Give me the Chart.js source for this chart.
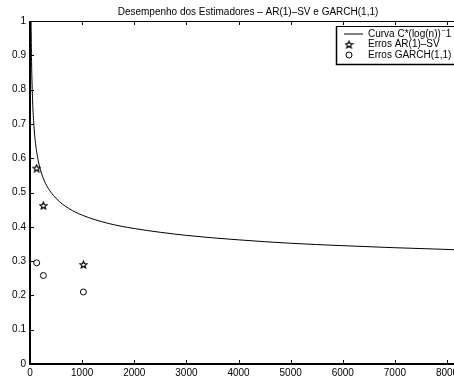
<!DOCTYPE html>
<html>
<head>
<meta charset="utf-8">
<script src="https://cdn.jsdelivr.net/npm/chart.js"></script>
<style>
  html, body { margin: 0; padding: 0; background: #fff; }
  #wrap { width: 454px; height: 381px; }
</style>
</head>
<body>
<div id="wrap"><canvas id="chart"></canvas></div>
<script>
// Curva C*(log(n))^-1, valores
var curveN = [20, 30, 50, 75, 100, 150, 200, 300, 500, 750, 1000, 1500, 2000, 3000, 4000, 5000, 6000, 7000, 8000, 8134];
var curveY = [1.0, 0.882, 0.767, 0.695, 0.651, 0.599, 0.566, 0.526, 0.483, 0.453, 0.434, 0.410, 0.395, 0.375, 0.362, 0.352, 0.345, 0.339, 0.334, 0.333];

// Erros dos estimadores
var sampleSizes = [128, 256, 1024];
var errosAR = [0.571, 0.462, 0.29];
var errosGARCH = [0.295, 0.258, 0.21];

var xTicks = [0, 1000, 2000, 3000, 4000, 5000, 6000, 7000, 8000];
var titleText = 'Desempenho dos Estimadores \u2013 AR(1)\u2013SV e GARCH(1,1)';
var labels = ['Curva C*(log(n))^-1', 'Erros AR(1)\u2013SV', 'Erros GARCH(1,1)'];

var FONT = '"Liberation Sans", Arial, Helvetica, sans-serif';

function toXY(xs, ys) {
    return xs.map(function(x, i) { return { x: x, y: ys[i] }; });
}

// estrela de 5 pontas como no MATLAB
function makeStar(size) {
    var c = document.createElement('canvas');
    c.width = size; c.height = size;
    var g = c.getContext('2d');
    var cx = size / 2, cy = size / 2 + 0.4, R = size / 2 - 0.8, r = R * 0.45;
    g.beginPath();
    for (var i = 0; i < 10; i++) {
        var rad = (i % 2 === 0) ? R : r;
        var a = -Math.PI / 2 + i * Math.PI / 5;
        var px = cx + rad * Math.cos(a), py = cy + rad * Math.sin(a);
        if (i === 0) g.moveTo(px, py); else g.lineTo(px, py);
    }
    g.closePath();
    g.fillStyle = '#fff';
    g.fill();
    g.lineWidth = 1.2;
    g.strokeStyle = '#000';
    g.stroke();
    return c;
}
var starImg = makeStar(9);

// moldura, ticks para dentro, título e legenda
var matlabPlugin = {
    id: 'matlab',
    afterDraw: function(chart) {
        var ctx = chart.ctx, a = chart.chartArea;
        var xs = chart.scales.x, ys = chart.scales.y;
        ctx.save();
        ctx.strokeStyle = '#000';
        // ticks
        ctx.lineWidth = 1;
        ctx.beginPath();
        xs.ticks.forEach(function(t) {
            var px = Math.round(xs.getPixelForValue(t.value)) + 0.5;
            ctx.moveTo(px, a.bottom); ctx.lineTo(px, a.bottom - 4);
            ctx.moveTo(px, a.top); ctx.lineTo(px, a.top + 4);
        });
        ys.ticks.forEach(function(t) {
            var py = Math.round(ys.getPixelForValue(t.value)) + 0.5;
            ctx.moveTo(a.left, py); ctx.lineTo(a.left + 4, py);
        });
        ctx.stroke();
        // moldura
        ctx.beginPath();
        ctx.moveTo(a.left, a.top + 0.5); ctx.lineTo(a.right, a.top + 0.5);
        ctx.stroke();
        ctx.lineWidth = 2;
        ctx.beginPath();
        ctx.moveTo(a.left, a.top); ctx.lineTo(a.left, a.bottom);
        ctx.lineTo(a.right, a.bottom);
        ctx.stroke();

        // título
        ctx.fillStyle = '#000';
        ctx.font = '10px ' + FONT;
        ctx.textAlign = 'center';
        ctx.textBaseline = 'middle';
        ctx.fillText(titleText, 248, 12);

        // legenda
        var bx = 336.5, by = 26.5, bw = 130, bh = 38;
        ctx.fillStyle = '#fff';
        ctx.fillRect(bx, by, bw, bh);
        ctx.lineWidth = 1;
        ctx.strokeRect(bx, by, bw, bh);
        ctx.lineWidth = 1.5;
        ctx.beginPath();
        ctx.moveTo(bx, by); ctx.lineTo(bx, by + bh); ctx.lineTo(bx + bw, by + bh);
        ctx.stroke();

        var rows = [34, 44.5, 55];
        ctx.lineWidth = 1;
        ctx.beginPath();
        ctx.moveTo(344, rows[0]); ctx.lineTo(363, rows[0]);
        ctx.stroke();
        ctx.drawImage(starImg, 349 - 4.5, rows[1] - 4.5);
        ctx.beginPath();
        ctx.arc(349, rows[2], 3, 0, Math.PI * 2);
        ctx.fillStyle = '#fff';
        ctx.fill();
        ctx.stroke();

        ctx.fillStyle = '#000';
        ctx.textAlign = 'left';
        ctx.font = '10px ' + FONT;
        var main = labels[0].split('^')[0];
        ctx.fillText(main, 368, rows[0]);
        var w = ctx.measureText(main).width;
        ctx.font = '7px ' + FONT;
        ctx.fillText('\u2212', w + 368.5, rows[0] - 3);
        ctx.font = '10px ' + FONT;
        ctx.fillText('1', w + 373, rows[0]);
        ctx.fillText(labels[1], 368, rows[1]);
        ctx.fillText(labels[2], 368, rows[2]);
        ctx.restore();
    }
};

var ctx = document.getElementById('chart').getContext('2d');
var chart = new Chart(ctx, {
    type: 'scatter',
    data: {
        datasets: [{
            label: labels[0],
            data: toXY(curveN, curveY),
            showLine: true,
            borderColor: '#000',
            borderWidth: 1,
            pointRadius: 0,
            cubicInterpolationMode: 'monotone'
        }, {
            label: labels[1],
            data: toXY(sampleSizes, errosAR),
            pointStyle: starImg,
            pointRadius: 4
        }, {
            label: labels[2],
            data: toXY(sampleSizes, errosGARCH),
            pointStyle: 'circle',
            pointRadius: 3,
            borderColor: '#000',
            backgroundColor: '#fff',
            borderWidth: 1
        }]
    },
    options: {
        responsive: true,
        maintainAspectRatio: false,
        animation: false,
        layout: { autoPadding: false, padding: { top: 21, left: 0, right: 0, bottom: 0 } },
        plugins: {
            legend: { display: false },
            title: { display: false },
            tooltip: { enabled: false }
        },
        scales: {
            x: {
                type: 'linear',
                min: 0,
                max: 8134,
                afterBuildTicks: function(scale) {
                    scale.ticks = xTicks.map(function(v) { return { value: v }; });
                },
                grid: { display: false, drawTicks: false },
                border: { display: false },
                ticks: {
                    color: '#000',
                    font: { family: FONT, size: 10 },
                    padding: 3,
                    maxRotation: 0,
                    autoSkip: false,
                    callback: function(v) { return String(v); }
                },
                afterFit: function(scale) {
                    scale.height = 17;
                    scale.paddingLeft = 0;
                    scale.paddingRight = 0;
                }
            },
            y: {
                min: 0,
                max: 1,
                ticks: {
                    stepSize: 0.1,
                    color: '#000',
                    font: { family: FONT, size: 10 },
                    padding: 4,
                    callback: function(v) { return String(Math.round(v * 10) / 10); }
                },
                grid: { display: false, drawTicks: false },
                border: { display: false },
                afterFit: function(scale) {
                    scale.width = 30;
                    scale.paddingTop = 0;
                    scale.paddingBottom = 0;
                }
            }
        }
    },
    plugins: [matlabPlugin]
});
</script>
</body>
</html>
